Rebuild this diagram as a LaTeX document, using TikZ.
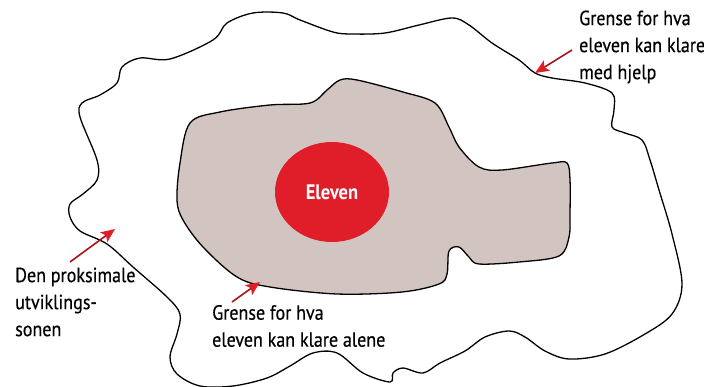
\documentclass[tikz,border=0pt]{standalone}
\usepackage{fontspec}
\setmainfont{PT Sans}[FakeStretch=0.88]
\usepackage{tikz}
\usetikzlibrary{arrows.meta,shapes.geometric}

\definecolor{sone}{RGB}{210,197,193}
\definecolor{elevrod}{RGB}{224,30,42}
\definecolor{pilrod}{RGB}{170,18,26}

\tikzset{
  grense/.style={line width=1.3pt,line join=round},
  merk/.style={font=\fontsize{20.5}{27}\selectfont\addfontfeature{FakeBold=0.4},align=left,inner sep=0pt},
  pil/.style={pilrod,line width=1.6pt,-{Stealth[length=14pt,width=12pt,inset=3pt,color=elevrod]}}
}

\begin{document}
\begin{tikzpicture}[x=1pt,y=-1pt]
  \useasboundingbox (0,0) rectangle (704,387);
  % ytre grense
  \draw[grense,fill=white] plot[smooth cycle,tension=0.55] coordinates {
    (82,103) (100,95) (117,83) (122,67) (140,58) (170,59) (213,40) (227,23)
    (253,13) (283,13) (300,20) (333,32) (352,34) (385,33) (419,25) (452,18)
    (469,25) (492,43) (519,60) (535,73) (552,78) (585,83) (612,93) (614,110)
    (612,127) (625,133) (642,140) (650,160) (659,190) (672,234) (682,284)
    (672,314) (645,334) (605,354) (569,359) (545,351) (525,337) (509,331)
    (485,337) (465,351) (440,363) (423,373) (403,368) (393,373) (390,382)
    (363,373) (337,353) (313,353) (290,366) (267,378) (233,386) (200,386)
    (177,374) (170,357) (177,334) (180,314) (167,297) (133,267) (107,244)
    (80,231) (70,217) (70,204) (83,194) (97,180) (97,160) (80,117)};
  % indre grense
  \draw[grense,fill=sone] plot[smooth cycle,tension=0.55] coordinates {
    (190,123) (220,112) (270,105) (310,103) (327,90) (340,80) (357,80)
    (403,92) (435,103) (449,127) (459,147) (479,167) (502,170) (552,163)
    (567,163) (570,180) (570,213) (569,237) (559,256) (519,262) (479,264)
    (469,257) (459,247) (449,251) (447,274) (439,284) (402,292) (337,294)
    (270,287) (237,277) (203,247) (183,220) (177,200) (180,163)};

  \node[ellipse,fill=elevrod,minimum width=114pt,minimum height=100pt,
        font=\fontsize{21}{24}\selectfont\bfseries,text=white] (elev) at (332,192) {Eleven};

  \node[merk,anchor=west] (hjelp) at (579,47) {Grense for hva\\eleven kan klare\\med hjelp};
  \node[merk,anchor=west] (sonen) at (15,302) {Den proksimale\\utviklings-\\sonen};
  \node[merk,anchor=west] (alene) at (212,326) {Grense for hva\\eleven kan klare alene};

  \coordinate (hjelpfra) at (572,50);
  \coordinate (hjelptil) at (535,73);
  \coordinate (sonefra) at (70,262);
  \coordinate (sonetil) at (115,229);
  \coordinate (alenefra) at (232,302);
  \coordinate (alenetil) at (260,282);
  \draw[pil] (hjelpfra) -- (hjelptil);
  \draw[pil] (sonefra) -- (sonetil);
  \draw[pil] (alenefra) -- (alenetil);
\end{tikzpicture}
\end{document}
